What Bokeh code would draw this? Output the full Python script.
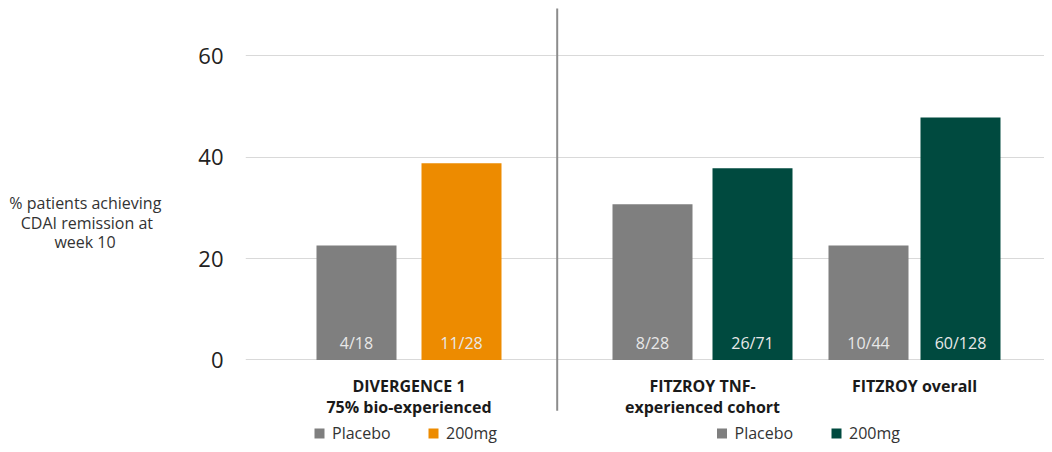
from bokeh.plotting import figure
from bokeh.models import Range1d, FixedTicker, ColumnDataSource
from bokeh.core.properties import value
from bokeh.embed import file_html
from bokeh.resources import INLINE

# ---- data ----
groups = ["DIVERGENCE 1\n75% bio-experienced", "FITZROY TNF-\nexperienced cohort", "FITZROY overall"]
placebo = [22.6, 30.7, 22.6]
dose_200mg = [38.8, 37.8, 47.8]
placebo_n = ["4/18", "8/28", "10/44"]
dose_n = ["11/28", "26/71", "60/128"]
y_ticks = [0, 20, 40, 60]
y_title_lines = ["% patients achieving", "CDAI remission at", "week 10"]
legend_labels = ["Placebo", "200mg"]

FONT = "Open Sans"
GRAY = "#7f7f7f"
ORANGE = "#ED8B00"
GREEN = "#004A3F"
dose_colors = [ORANGE, GREEN, GREEN]

# layout (x data units == canvas pixels)
group_centers = [408.5, 702, 914]
half_gaps = [52.5, 50, 46]
bar_w = 80

p = figure(width=1044, height=444, output_backend="svg", toolbar_location=None,
           x_range=Range1d(245, 1044), y_range=Range1d(-16.67, 70.9),
           min_border_left=245, min_border_right=0, min_border_top=0, min_border_bottom=0)
p.outline_line_color = None
p.background_fill_color = "white"
p.border_fill_color = "white"
p.xaxis.visible = False
p.xgrid.visible = False
p.ygrid.grid_line_color = "#d9d9d9"
p.ygrid.grid_line_width = 1.2

# the axis label is drawn right-aligned; pad the shorter lines so they look centred
pads = [0, 2, 11]
y_title = "\n".join(t + "\u00a0" * n for t, n in zip(y_title_lines, pads))

ya = p.yaxis[0]
ya.ticker = FixedTicker(ticks=y_ticks)
ya.axis_line_color = None
ya.major_tick_line_color = None
ya.minor_tick_line_color = None
ya.major_tick_in = 0
ya.major_tick_out = 0
ya.major_label_standoff = 22
ya.major_label_text_font = FONT
ya.major_label_text_font_size = "22px"
ya.major_label_text_color = "#222222"
ya.axis_label = y_title
ya.axis_label_orientation = "horizontal"
ya.axis_label_standoff = 34
ya.axis_label_text_font = FONT
ya.axis_label_text_font_size = "16px"
ya.axis_label_text_font_style = "normal"
ya.axis_label_text_color = "#333333"
ya.axis_label_text_line_height = 0.9

x_pl = [c - g for c, g in zip(group_centers, half_gaps)]
x_ds = [c + g for c, g in zip(group_centers, half_gaps)]

src_pl = ColumnDataSource(dict(x=x_pl, top=placebo, n=placebo_n))
src_ds = ColumnDataSource(dict(x=x_ds, top=dose_200mg, n=dose_n, color=dose_colors))

p.vbar(x="x", top="top", bottom=0, width=bar_w, source=src_pl, color=GRAY, line_color=None)
p.vbar(x="x", top="top", bottom=0, width=bar_w, source=src_ds, fill_color="color", line_color=None)

label_y = 3.3
for src in (src_pl, src_ds):
    p.text(x="x", y=label_y, text="n", source=src, text_align="center", text_baseline="middle",
           text_font=value(FONT), text_font_size="16px", text_color="#e8e8e8")

# category labels
p.text(x=group_centers, y=[-3.0] * 3, text=groups, text_align="center", text_baseline="top",
       text_font=value(FONT), text_font_size="16px", text_font_style="bold",
       text_color="#1a1a1a", text_line_height=0.96)

# divider
p.segment(x0=[556.7], y0=[-10.0], x1=[556.7], y1=[69.3], line_color="#8c8c8c", line_width=2)

# legends
leg_y = -14.5
leg_sets = [([319, 433], [GRAY, ORANGE]), ([721.5, 836], [GRAY, GREEN])]
for xs, cols in leg_sets:
    p.scatter(x=xs, y=[leg_y] * 2, marker="square", size=10, fill_color=cols, line_color=None)
    p.text(x=[v + 12.5 for v in xs], y=[leg_y] * 2, text=legend_labels, text_align="left",
           text_baseline="middle", text_font=value(FONT), text_font_size="16px",
           text_color="#333333")

open("out.html", "w").write(file_html(p, INLINE))
